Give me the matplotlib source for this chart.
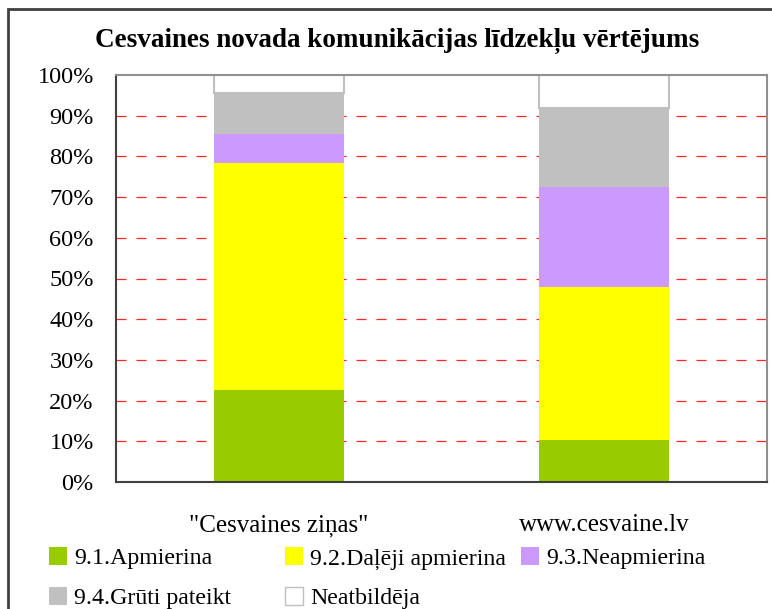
import matplotlib
matplotlib.use("Agg")
import matplotlib.pyplot as plt
from matplotlib.patches import Patch, Rectangle
import numpy as np

plt.rcParams['font.family'] = ['Liberation Serif', 'DejaVu Serif']

categories = ['"Cesvaines ziņas"', 'www.cesvaine.lv']
series_names = ['9.1.Apmierina', '9.2.Daļēji apmierina', '9.3.Neapmierina',
                '9.4.Grūti pateikt', 'Neatbildēja']
apmierina = [22.7, 10.4]
daleji = [55.8, 37.6]
neapmierina = [7.1, 24.6]
gruti = [10.1, 19.2]
neatbildeja = [4.3, 8.2]
yticks = [0, 10, 20, 30, 40, 50, 60, 70, 80, 90, 100]
ytick_labels = ['0%', '10%', '20%', '30%', '40%', '50%', '60%', '70%', '80%', '90%', '100%']
title = 'Cesvaines novada komunikācijas līdzekļu vērtējums'

colors = ['#99CC00', '#FFFF00', '#CC99FF', '#C0C0C0', '#FFFFFF']
edges = [None, None, None, None, '#BFBFBF']

W, H = 772, 609
fig = plt.figure(figsize=(W / 100, H / 100), dpi=100)
fig.patch.set_facecolor('white')

# outer chart border
fig.patches.append(Rectangle((8 / W, -0.1), 1.2, 1 - 9 / H + 0.1, transform=fig.transFigure,
                             fill=False, edgecolor='#404040', linewidth=2.0, zorder=0))

ax = fig.add_axes([116 / W, 1 - 482 / H, (767 - 116) / W, (482 - 75) / H])
x = np.arange(len(categories))
bottom = np.zeros(len(categories))
data = [apmierina, daleji, neapmierina, gruti, neatbildeja]
handles = []
for vals, name, c, e in zip(data, series_names, colors, edges):
    if e is None:
        ax.bar(x, vals, 0.40, bottom=bottom, color=c, linewidth=0, zorder=2)
    else:
        ax.bar(x, vals, 0.40, bottom=bottom, color=c, edgecolor=e, linewidth=1.5, zorder=2)
    bottom = bottom + np.array(vals)
    handles.append(Patch(facecolor=c, edgecolor=e if e else c, linewidth=1.0 if e else 0, label=name))

ax.set_xlim(-0.5, 1.5)
ax.set_ylim(0, 100)
ax.set_yticks(yticks)
ax.set_yticklabels(ytick_labels, fontsize=17.5)
ax.set_xticks(x)
ax.set_xticklabels(categories, fontsize=18)
ax.tick_params(axis='both', length=0)
ax.tick_params(axis='y', pad=16)
ax.tick_params(axis='x', pad=23)
for yv in yticks[1:-1]:
    ax.axhline(yv, color='#FF0000', linewidth=0.9, dashes=(8, 8), alpha=0.85, zorder=1)

for s in ['left', 'bottom']:
    ax.spines[s].set_color('#404040')
    ax.spines[s].set_linewidth(1.5)
for s in ['top', 'right']:
    ax.spines[s].set_color('#909090')
    ax.spines[s].set_linewidth(1.5)

fig.text(397 / W, 1 - 41 / H, title, ha='center', va='center', fontsize=19.5, fontweight='bold')

leg_kw = dict(frameon=False, fontsize=17.2, handlelength=0.75, handleheight=0.8,
              handletextpad=0.3, labelspacing=0.72, borderpad=0, borderaxespad=0, loc='upper left')
fig.legend([handles[0], handles[3]], [series_names[0], series_names[3]],
           bbox_to_anchor=(49 / W, 1 - 547 / H), **leg_kw)
fig.legend([handles[1], handles[4]], [series_names[1], series_names[4]],
           bbox_to_anchor=(285 / W, 1 - 547 / H), **leg_kw)
fig.legend([handles[2]], [series_names[2]],
           bbox_to_anchor=(521 / W, 1 - 547 / H), **leg_kw)

fig.savefig('out.png', dpi=100)
